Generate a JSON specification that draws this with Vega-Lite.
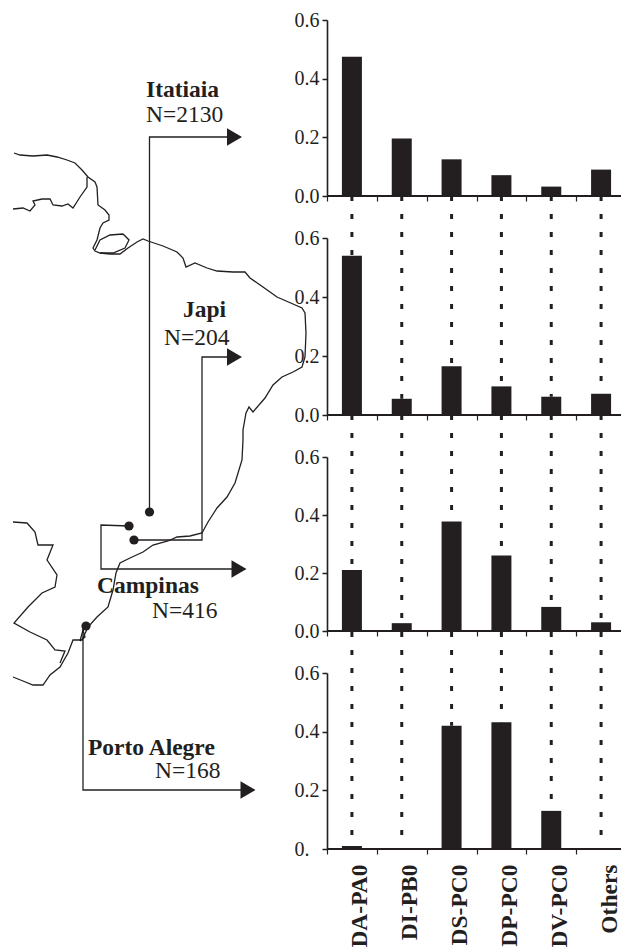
{"$schema":"https://vega.github.io/schema/vega-lite/v6.json","padding":{"left":0,"top":10,"right":0,"bottom":0},"background":"white","bounds":"flush","spacing":0,"config":{"view":{"stroke":null},"axis":{"labelFont":"Liberation Serif","labelColor":"#231f20","domainColor":"#231f20","tickColor":"#231f20","grid":false,"title":null}},
"datasets":{
"freq":[
{"site":"Itatiaia","haplotype":"DA-PA0","frequency":0.475},{"site":"Itatiaia","haplotype":"DI-PB0","frequency":0.196},{"site":"Itatiaia","haplotype":"DS-PC0","frequency":0.125},{"site":"Itatiaia","haplotype":"DP-PC0","frequency":0.071},{"site":"Itatiaia","haplotype":"DV-PC0","frequency":0.032},{"site":"Itatiaia","haplotype":"Others","frequency":0.09},
{"site":"Japi","haplotype":"DA-PA0","frequency":0.54,"lead":0.742},{"site":"Japi","haplotype":"DI-PB0","frequency":0.055,"lead":0.742},{"site":"Japi","haplotype":"DS-PC0","frequency":0.165,"lead":0.742},{"site":"Japi","haplotype":"DP-PC0","frequency":0.097,"lead":0.742},{"site":"Japi","haplotype":"DV-PC0","frequency":0.062,"lead":0.742},{"site":"Japi","haplotype":"Others","frequency":0.072,"lead":0.742},
{"site":"Campinas","haplotype":"DA-PA0","frequency":0.21,"lead":0.745},{"site":"Campinas","haplotype":"DI-PB0","frequency":0.027,"lead":0.745},{"site":"Campinas","haplotype":"DS-PC0","frequency":0.378,"lead":0.745},{"site":"Campinas","haplotype":"DP-PC0","frequency":0.26,"lead":0.745},{"site":"Campinas","haplotype":"DV-PC0","frequency":0.083,"lead":0.745},{"site":"Campinas","haplotype":"Others","frequency":0.03,"lead":0.745},
{"site":"Porto Alegre","haplotype":"DA-PA0","frequency":0.01,"lead":0.74},{"site":"Porto Alegre","haplotype":"DI-PB0","frequency":0,"lead":0.74},{"site":"Porto Alegre","haplotype":"DS-PC0","frequency":0.42,"lead":0.74},{"site":"Porto Alegre","haplotype":"DP-PC0","frequency":0.432,"lead":0.74},{"site":"Porto Alegre","haplotype":"DV-PC0","frequency":0.13,"lead":0.74},{"site":"Porto Alegre","haplotype":"Others","frequency":0,"lead":0.74}
],
"outline":[
{"path":"coast","e":14,"s":153},{"path":"coast","e":20,"s":155},{"path":"coast","e":33,"s":156},{"path":"coast","e":47,"s":155},{"path":"coast","e":57,"s":157},{"path":"coast","e":67,"s":160},{"path":"coast","e":75,"s":163},{"path":"coast","e":82,"s":170},{"path":"coast","e":88,"s":177},{"path":"coast","e":95,"s":182},{"path":"coast","e":97,"s":187},{"path":"coast","e":98,"s":205},{"path":"coast","e":105,"s":210},{"path":"coast","e":109,"s":215},{"path":"coast","e":109,"s":220},{"path":"coast","e":103,"s":223},{"path":"coast","e":100,"s":228},{"path":"coast","e":97,"s":240},{"path":"coast","e":93,"s":248},{"path":"coast","e":95,"s":251},{"path":"coast","e":100,"s":253},{"path":"coast","e":110,"s":254},{"path":"coast","e":120,"s":254},{"path":"coast","e":128,"s":248},{"path":"coast","e":137,"s":242},{"path":"coast","e":143,"s":239},{"path":"coast","e":148,"s":241},{"path":"coast","e":163,"s":246},{"path":"coast","e":177,"s":252},{"path":"coast","e":183,"s":258},{"path":"coast","e":186,"s":267},{"path":"coast","e":195,"s":263},{"path":"coast","e":207,"s":268},{"path":"coast","e":217,"s":271},{"path":"coast","e":233,"s":272},{"path":"coast","e":245,"s":272},{"path":"coast","e":250,"s":278},{"path":"coast","e":263,"s":287},{"path":"coast","e":277,"s":297},{"path":"coast","e":293,"s":304},{"path":"coast","e":302,"s":308},{"path":"coast","e":305,"s":313},{"path":"coast","e":306,"s":333},{"path":"coast","e":305,"s":357},{"path":"coast","e":302,"s":367},{"path":"coast","e":293,"s":372},{"path":"coast","e":282,"s":377},{"path":"coast","e":273,"s":385},{"path":"coast","e":265,"s":398},{"path":"coast","e":253,"s":412},{"path":"coast","e":249,"s":407},{"path":"coast","e":246,"s":413},{"path":"coast","e":243,"s":430},{"path":"coast","e":243,"s":440},{"path":"coast","e":242,"s":460},{"path":"coast","e":235,"s":483},{"path":"coast","e":227,"s":497},{"path":"coast","e":217,"s":508},{"path":"coast","e":208,"s":522},{"path":"coast","e":202,"s":533},{"path":"coast","e":190,"s":536},{"path":"coast","e":177,"s":537},{"path":"coast","e":168,"s":541},{"path":"coast","e":153,"s":545},{"path":"coast","e":143,"s":552},{"path":"coast","e":130,"s":558},{"path":"coast","e":120,"s":563},{"path":"coast","e":116,"s":573},{"path":"coast","e":113,"s":590},{"path":"coast","e":108,"s":607},{"path":"coast","e":97,"s":617},{"path":"coast","e":88,"s":627},{"path":"coast","e":82,"s":640},{"path":"coast","e":73,"s":640},{"path":"coast","e":68,"s":653},{"path":"coast","e":60,"s":667},{"path":"coast","e":50,"s":675},{"path":"coast","e":43,"s":685},{"path":"coast","e":33,"s":685},{"path":"coast","e":23,"s":681},{"path":"coast","e":13,"s":677},
{"path":"amazon","e":87,"s":177},{"path":"amazon","e":87,"s":187},{"path":"amazon","e":80,"s":197},{"path":"amazon","e":73,"s":208},{"path":"amazon","e":68,"s":204},{"path":"amazon","e":62,"s":206},{"path":"amazon","e":53,"s":205},{"path":"amazon","e":50,"s":199},{"path":"amazon","e":42,"s":199},{"path":"amazon","e":33,"s":201},{"path":"amazon","e":35,"s":205},{"path":"amazon","e":30,"s":211},{"path":"amazon","e":23,"s":208},{"path":"amazon","e":13,"s":209},
{"path":"marajo","e":95,"s":250},{"path":"marajo","e":100,"s":240},{"path":"marajo","e":110,"s":235},{"path":"marajo","e":123,"s":234},{"path":"marajo","e":129,"s":240},{"path":"marajo","e":125,"s":248},{"path":"marajo","e":113,"s":253},{"path":"marajo","e":100,"s":253},
{"path":"border","e":13,"s":522},{"path":"border","e":27,"s":523},{"path":"border","e":35,"s":532},{"path":"border","e":38,"s":545},{"path":"border","e":53,"s":545},{"path":"border","e":47,"s":560},{"path":"border","e":57,"s":575},{"path":"border","e":55,"s":587},{"path":"border","e":42,"s":593},{"path":"border","e":28,"s":607},{"path":"border","e":14,"s":623},{"path":"border","e":30,"s":632},{"path":"border","e":47,"s":640},{"path":"border","e":55,"s":650},{"path":"border","e":65,"s":651},{"path":"border","e":60,"s":663},
{"path":"lagoon","e":80,"s":641},{"path":"lagoon","e":83,"s":630},{"path":"lagoon","e":85,"s":637},{"path":"lagoon","e":80,"s":641},
{"path":"lead Itatiaia","e":149.5,"s":512},{"path":"lead Itatiaia","e":149.5,"s":137},{"path":"lead Itatiaia","e":228,"s":137},
{"path":"lead Japi","e":134,"s":540},{"path":"lead Japi","e":202,"s":540},{"path":"lead Japi","e":202,"s":357},{"path":"lead Japi","e":228,"s":357},
{"path":"lead Campinas","e":129,"s":526},{"path":"lead Campinas","e":101,"s":525},{"path":"lead Campinas","e":101,"s":569},{"path":"lead Campinas","e":233,"s":569},
{"path":"lead Porto Alegre","e":86,"s":626},{"path":"lead Porto Alegre","e":83,"s":626},{"path":"lead Porto Alegre","e":83,"s":790},{"path":"lead Porto Alegre","e":242,"s":790}
],
"sites":[{"site":"Itatiaia","e":149.5,"s":512},{"site":"Campinas","e":129,"s":526},{"site":"Japi","e":134,"s":540},{"site":"Porto Alegre","e":86,"s":626}],
"arrows":[{"site":"Itatiaia","e":234.5,"s":137},{"site":"Japi","e":234.5,"s":357},{"site":"Campinas","e":239,"s":569},{"site":"Porto Alegre","e":248,"s":790}],
"names":[{"label":"Itatiaia","e":146,"s":97},{"label":"Japi","e":183,"s":317},{"label":"Campinas","e":97,"s":593},{"label":"Porto Alegre","e":88,"s":755}],
"counts":[{"label":"N=2130","e":146,"s":122},{"label":"N=204","e":164,"s":345},{"label":"N=416","e":152,"s":618},{"label":"N=168","e":155,"s":778}]
},
"hconcat":[
{"width":327,"height":829,
"encoding":{"x":{"field":"e","type":"quantitative","scale":{"domain":[0,327],"nice":false},"axis":null},"y":{"field":"s","type":"quantitative","scale":{"domain":[849,20],"nice":false,"zero":false},"axis":null}},
"layer":[
{"data":{"name":"outline"},"mark":{"type":"line","stroke":"#231f20","strokeWidth":1.3,"order":null},"encoding":{"detail":{"field":"path"},"order":{"value":null}}},
{"data":{"name":"sites"},"mark":{"type":"point","shape":"circle","filled":true,"color":"#231f20","size":85,"opacity":1}},
{"data":{"name":"arrows"},"mark":{"type":"point","shape":"triangle-right","filled":true,"color":"#231f20","size":300,"opacity":1}},
{"data":{"name":"names"},"mark":{"type":"text","align":"left","baseline":"alphabetic","font":"Liberation Serif","fontWeight":"bold","fontSize":23.5,"color":"#231f20"},"encoding":{"text":{"field":"label"}}},
{"data":{"name":"counts"},"mark":{"type":"text","align":"left","baseline":"alphabetic","font":"Liberation Serif","fontSize":23.5,"color":"#231f20"},"encoding":{"text":{"field":"label"}}}
]},
{"bounds":"flush","spacing":42,"vconcat":[
{"width":294,"height":176,"data":{"name":"freq"},"transform":[{"filter":"datum.site==='Itatiaia'"}],
"encoding":{"x":{"field":"haplotype","type":"nominal","sort":["DA-PA0","DI-PB0","DS-PC0","DP-PC0","DV-PC0","Others"],"scale":{"range":[0,299],"padding":0},"axis":{"labels":false,"domain":false,"tickBand":"extent","tickExtra":false,"tickSize":5,"tickWidth":1.2}},"y":{"type":"quantitative","scale":{"domain":[0,0.6],"nice":false},"axis":{"values":[0,0.2,0.4,0.6],"format":".1f","labelFontSize":20,"labelAlign":"left","labelPadding":28,"tickSize":5,"tickWidth":1.5,"domainWidth":1.6}}},
"layer":[
{"mark":{"type":"bar","width":20,"color":"#231f20"},"encoding":{"y":{"field":"frequency"}}},
{"mark":{"type":"rule","stroke":"#231f20","strokeWidth":1.5},"encoding":{"x":null,"y":{"datum":0}}}
]},
{"width":294,"height":177,"data":{"name":"freq"},"transform":[{"filter":"datum.site==='Japi'"}],
"encoding":{"x":{"field":"haplotype","type":"nominal","sort":["DA-PA0","DI-PB0","DS-PC0","DP-PC0","DV-PC0","Others"],"scale":{"range":[0,299],"padding":0},"axis":{"labels":false,"domain":false,"tickBand":"extent","tickExtra":false,"tickSize":5,"tickWidth":1.2}},"y":{"type":"quantitative","scale":{"domain":[0,0.6],"nice":false},"axis":{"values":[0,0.2,0.4,0.6],"format":".1f","labelFontSize":20,"labelAlign":"left","labelPadding":28,"tickSize":5,"tickWidth":1.5,"domainWidth":1.6}}},
"layer":[
{"mark":{"type":"rule","stroke":"#231f20","strokeWidth":3,"strokeDash":[5,13]},"encoding":{"y":{"field":"lead"},"y2":{"field":"frequency"}}},
{"mark":{"type":"bar","width":20,"color":"#231f20"},"encoding":{"y":{"field":"frequency"}}},
{"mark":{"type":"rule","stroke":"#231f20","strokeWidth":1.5},"encoding":{"x":null,"y":{"datum":0}}}
]},
{"width":294,"height":174,"data":{"name":"freq"},"transform":[{"filter":"datum.site==='Campinas'"}],
"encoding":{"x":{"field":"haplotype","type":"nominal","sort":["DA-PA0","DI-PB0","DS-PC0","DP-PC0","DV-PC0","Others"],"scale":{"range":[0,299],"padding":0},"axis":{"labels":false,"domain":false,"tickBand":"extent","tickExtra":false,"tickSize":5,"tickWidth":1.2}},"y":{"type":"quantitative","scale":{"domain":[0,0.6],"nice":false},"axis":{"values":[0,0.2,0.4,0.6],"format":".1f","labelFontSize":20,"labelAlign":"left","labelPadding":28,"tickSize":5,"tickWidth":1.5,"domainWidth":1.6}}},
"layer":[
{"mark":{"type":"rule","stroke":"#231f20","strokeWidth":3,"strokeDash":[5,13]},"encoding":{"y":{"field":"lead"},"y2":{"field":"frequency"}}},
{"mark":{"type":"bar","width":20,"color":"#231f20"},"encoding":{"y":{"field":"frequency"}}},
{"mark":{"type":"rule","stroke":"#231f20","strokeWidth":1.5},"encoding":{"x":null,"y":{"datum":0}}}
]},
{"width":294,"height":176,"data":{"name":"freq"},"transform":[{"filter":"datum.site==='Porto Alegre'"}],
"encoding":{"x":{"field":"haplotype","type":"nominal","sort":["DA-PA0","DI-PB0","DS-PC0","DP-PC0","DV-PC0","Others"],"scale":{"range":[0,299],"padding":0},"axis":{"labelAngle":270,"labelAlign":"right","labelBaseline":"alphabetic","labelOffset":15,"labelPadding":10,"labelFontSize":23.5,"labelFontWeight":"bold","domain":false,"tickBand":"extent","tickExtra":false,"tickSize":5,"tickWidth":1.2}},"y":{"type":"quantitative","scale":{"domain":[0,0.6],"nice":false},"axis":{"values":[0,0.2,0.4,0.6],"labelExpr":"datum.value===0?'0.':format(datum.value,'.1f')","labelFontSize":20,"labelAlign":"left","labelPadding":28,"tickSize":5,"tickWidth":1.5,"domainWidth":1.6}}},
"layer":[
{"mark":{"type":"rule","stroke":"#231f20","strokeWidth":3,"strokeDash":[5,13]},"encoding":{"y":{"field":"lead"},"y2":{"field":"frequency"}}},
{"mark":{"type":"bar","width":20,"color":"#231f20"},"encoding":{"y":{"field":"frequency"}}},
{"mark":{"type":"rule","stroke":"#231f20","strokeWidth":1.5},"encoding":{"x":null,"y":{"datum":0}}}
]}
]}
]}
